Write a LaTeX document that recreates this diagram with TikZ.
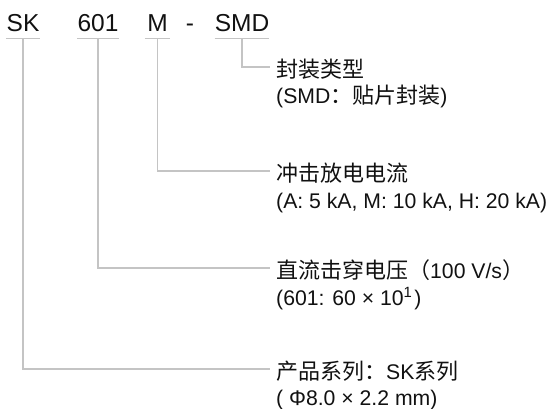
\documentclass[tikz,border=0pt]{standalone}
\usepackage{fontspec}
\setmainfont{Liberation Sans}
\newfontfamily\cjk{Noto Sans CJK SC}
\usetikzlibrary{calc}
\definecolor{lncol}{HTML}{C4C4C4}
\definecolor{txtcol}{HTML}{111111}
\newcommand{\cj}[1]{{\cjk\fontsize{22}{26}\selectfont #1}}
\tikzset{
  hdr/.style={anchor=base, inner xsep=0pt, inner ysep=0pt, text depth=7pt,
    font=\fontsize{24.5}{29}\selectfont, text=txtcol},
  lab/.style={anchor=west, inner xsep=6pt, inner ysep=0pt, text height=21pt, text depth=0pt,
    font=\fontsize{21.2}{25}\selectfont, text=txtcol},
  sub/.style={anchor=base west, inner xsep=6pt, inner ysep=0pt,
    font=\fontsize{21.2}{25}\selectfont, text=txtcol},
  ln/.style={draw=lncol, line width=1.5pt}
}
\begin{document}
\begin{tikzpicture}[x=1pt,y=-1pt]
\useasboundingbox (0,0) rectangle (549,409);
% header
\node[hdr, minimum width=34pt] (sk) at (23,31.5) {SK};
\node[hdr, minimum width=38pt] (n601) at (98,31.5) {601};
\node[hdr, minimum width=25pt] (m) at (157.5,31.5) {M};
\node[hdr] (dash) at (190,31.5) {-};
\node[hdr, minimum width=52pt] (smd) at (242,31.5) {SMD};
% labels
\node[lab] (l1a) at (270,67) {\cj{封装类型}};
\node[sub] (l1b) at ($(l1a.base west)+(0,26.5)$) {(SMD\cj{：贴片封装})};
\node[lab] (l2a) at (270,171) {\cj{冲击放电电流}};
\node[sub] (l2b) at ($(l2a.base west)+(0,26.5)$) {(A: 5 kA, M: 10 kA, H: 20 kA)};
\node[lab] (l3a) at (270,268) {\cj{直流击穿电压（}100 V/s\cj{）}};
\node[sub] (l3b) at ($(l3a.base west)+(0,26.5)$) {(601: 60 × 10\textsuperscript{1}\kern2pt)};
\node[lab] (l4a) at (270,369) {\cj{产品系列：}SK\cj{系列}};
\node[sub] (l4b) at ($(l4a.base west)+(0,26)$) {( Φ8.0 × 2.2 mm)};
% underlines
\foreach \n in {sk,n601,m,smd}{\draw[ln] (\n.south west) -- (\n.south east);}
% connectors
\draw[ln] (smd.south) |- (l1a.west);
\draw[ln] (m.south) |- (l2a.west);
\draw[ln] (n601.south) |- (l3a.west);
\draw[ln] (sk.south) |- (l4a.west);
\end{tikzpicture}
\end{document}
